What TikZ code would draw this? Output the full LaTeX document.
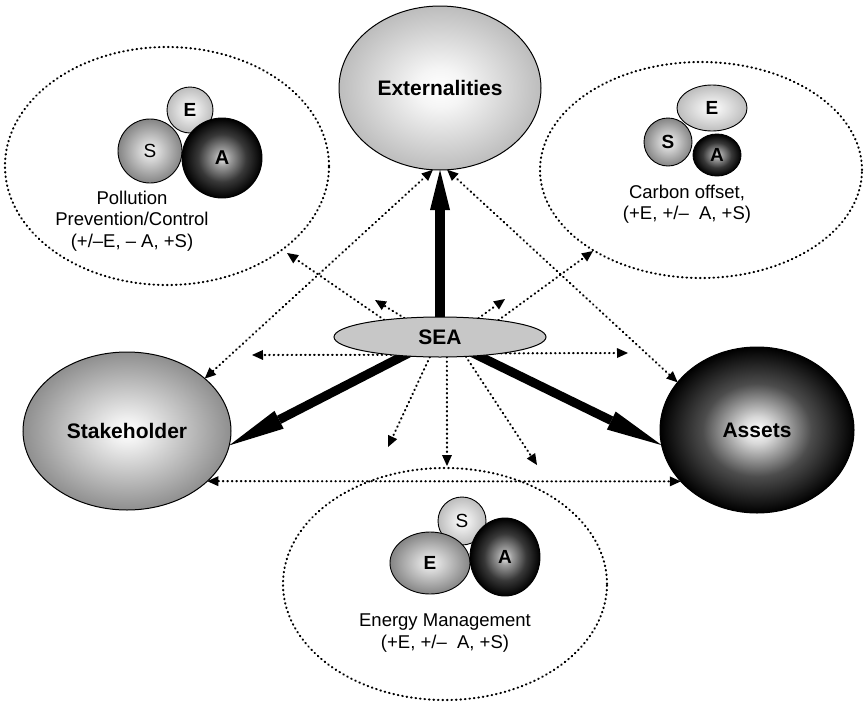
\documentclass[tikz,border=0pt]{standalone}
\usepackage{fontspec}
\setmainfont{Liberation Sans}
\usetikzlibrary{arrows.meta,shapes.geometric}

% radial fills
\pgfdeclareradialshading{extfill}{\pgfpoint{0bp}{0bp}}{color(0bp)=(white); color(6bp)=(white!96!black); color(25bp)=(white!74!black); color(50bp)=(white!74!black)}
\pgfdeclareradialshading{stakefill}{\pgfpoint{0bp}{0bp}}{color(0bp)=(white); color(4bp)=(white!94!black); color(25bp)=(white!56!black); color(50bp)=(white!56!black)}
\pgfdeclareradialshading{assetfill}{\pgfpoint{0bp}{0bp}}{color(0bp)=(white); color(4bp)=(white!85!black); color(14bp)=(white!30!black); color(25bp)=(black); color(50bp)=(black)}
\pgfdeclareradialshading{lightball}{\pgfpoint{0bp}{0bp}}{color(0bp)=(white); color(25bp)=(white!74!black); color(50bp)=(white!74!black)}
\pgfdeclareradialshading{midball}{\pgfpoint{0bp}{0bp}}{color(0bp)=(white!96!black); color(25bp)=(white!52!black); color(50bp)=(white!52!black)}
\pgfdeclareradialshading{darkball}{\pgfpoint{0bp}{0bp}}{color(0bp)=(white!92!black); color(5bp)=(white!62!black); color(15bp)=(white!22!black); color(25bp)=(black); color(50bp)=(black)}

\pgfdeclarelayer{back}
\pgfsetlayers{back,main}

\begin{document}
\begin{tikzpicture}[x=1pt,y=-1pt,
  hub/.style={ellipse, draw=black, line width=1pt, inner sep=0pt, outer sep=0pt,
    font=\bfseries\fontsize{21}{24}\selectfont},
  zone/.style={ellipse, draw=black, line width=2.1pt, dash pattern=on 0.6pt off 3.9pt,
    line cap=round, inner sep=0pt, outer sep=0pt},
  ball/.style={ellipse, draw=black, line width=0.9pt, inner sep=0pt, outer sep=0pt,
    font=\fontsize{19}{22}\selectfont},
  note/.style={align=center, inner sep=0pt, font=\fontsize{18.5}{21.5}\selectfont},
  dots/.style={line width=2.1pt, dash pattern=on 0.6pt off 3.9pt, line cap=round},
  dotarrow/.style={dots, -{Triangle[length=11pt,width=10pt,line width=0pt]}},
  dotboth/.style={dots, {Triangle[length=11pt,width=10pt,line width=0pt]}-{Triangle[length=11pt,width=10pt,line width=0pt]}},
  bigarrow/.style={line width=9pt, -{Triangle[length=56pt,width=20pt,line width=0pt]}},
  uparrow/.style={line width=10pt, -{Triangle[length=40pt,width=20pt,line width=0pt]}}
]
\useasboundingbox (0,0) rectangle (868,710);

% dotted theme regions
\node[zone, minimum width=324pt, minimum height=238pt] (polzone) at (167,166) {};
\node[zone, minimum width=322pt, minimum height=216pt] (carbzone) at (701,170) {};
\node[zone, minimum width=324pt, minimum height=232pt] (enzone) at (445,584) {};

% pollution prevention cluster
\node[ball, shading=lightball, minimum width=46pt, minimum height=46pt, font=\bfseries\fontsize{19}{22}\selectfont] (polE) at (190,110) {E};
\node[ball, shading=midball, minimum width=64pt, minimum height=64pt] (polS) at (150,151) {S};
\node[ball, shading=darkball, minimum width=80pt, minimum height=80pt, font=\bfseries\fontsize{20}{22}\selectfont] (polA) at (222,158) {A};
\node[note] (poltext) at (132,221) {Pollution\\Prevention/Control\\(+/–E, – A, +S)};

% carbon offset cluster
\node[ball, shading=lightball, minimum width=70pt, minimum height=46pt, font=\bfseries\fontsize{19}{22}\selectfont] (carE) at (712,108) {E};
\node[ball, shading=midball, minimum width=48pt, minimum height=48pt, font=\bfseries\fontsize{19}{22}\selectfont] (carS) at (668,142) {S};
\node[ball, shading=darkball, minimum width=48pt, minimum height=42pt, font=\bfseries\fontsize{19}{22}\selectfont] (carA) at (717,155) {A};
\node[note] (carbtext) at (687,204) {Carbon offset,\\(+E, +/–\ \ A, +S)};

% energy management cluster
\node[ball, shading=lightball, minimum width=48pt, minimum height=48pt] (enS) at (462,521) {S};
\node[ball, shading=midball, minimum width=80pt, minimum height=62pt, font=\bfseries\fontsize{19}{22}\selectfont] (enE) at (430,563) {E};
\node[ball, shading=darkball, minimum width=70pt, minimum height=78pt, font=\bfseries\fontsize{19}{22}\selectfont] (enA) at (505,557) {A};
\node[note] (entext) at (445,633) {Energy Management\\(+E, +/–\ \ A, +S)};

% main elements
\node[hub, shading=extfill, minimum width=202pt, minimum height=164pt] (ext) at (440,88) {Externalities};
\node[hub, shading=stakefill, minimum width=208pt, minimum height=158pt] (stake) at (127,431) {Stakeholder};
\node[hub, shading=assetfill, minimum width=194pt, minimum height=166pt] (assets) at (757,430) {Assets};
\node[hub, fill=white!78!black, minimum width=212pt, minimum height=40pt] (sea) at (440,337) {SEA};

% free ends of the short influence arrows
\coordinate (tipPol) at (287,253);
\coordinate (tipUL) at (375,300);
\coordinate (tipUR) at (505,299);
\coordinate (tipCarb) at (593,251);
\coordinate (tipL) at (252,355);
\coordinate (tipR) at (628,353);
\coordinate (tipDL) at (388,447);
\coordinate (tipD) at (447,466);
\coordinate (tipDR) at (537,465);

\begin{pgfonlayer}{back}
  % main influence arrows
  \draw[uparrow] (sea.center) -- (ext.south);
  \draw[bigarrow] (sea.center) -- (stake.-8);
  \draw[bigarrow] (sea.center) -- (assets.189);

  % secondary influences
  \draw[dotarrow] (sea.163) -- (tipPol);
  \draw[dotarrow] (sea.152) -- (tipUL);
  \draw[dotarrow] (sea.26) -- (tipUR);
  \draw[dotarrow] (sea.16) -- (tipCarb);
  \draw[dotarrow] (sea.200) -- (tipL);
  \draw[dotarrow] (sea.-15) -- (tipR);
  \draw[dotarrow] (sea.243) -- (tipDL);
  \draw[dotarrow] (sea.-71) -- (tipD);
  \draw[dotarrow] (sea.-37) -- (tipDR);

  % mutual relations
  \draw[dotboth] (stake.-32) -- (assets.214);
  \draw[dotboth] (stake.34) -- (ext.-95);
  \draw[dotboth] (assets.149) -- (ext.-85);
\end{pgfonlayer}
\end{tikzpicture}
\end{document}
